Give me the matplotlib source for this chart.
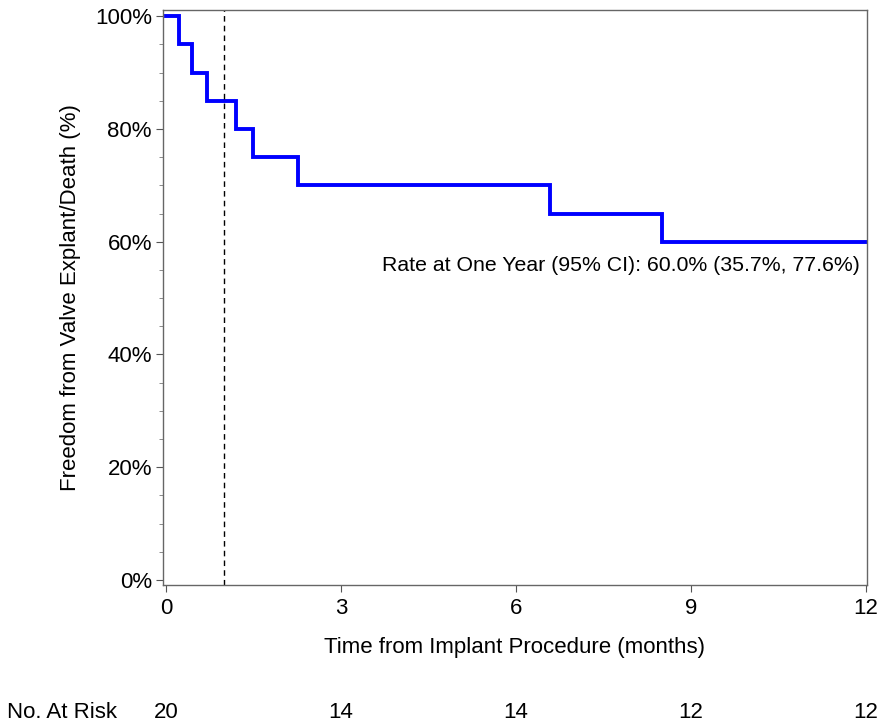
import numpy as np
import matplotlib
matplotlib.use('Agg')
import matplotlib.pyplot as plt

# Kaplan-Meier step estimates
event_times = [0.0, 0.22, 0.44, 0.70, 1.21, 1.50, 2.27, 6.58, 8.50, 12.0]
survival = [100, 95, 90, 85, 80, 75, 70, 65, 60, 60]
risk_times = [0, 3, 6, 9, 12]
at_risk = [20, 14, 14, 12, 12]
ref_line = 1.0

plt.rcParams['font.family'] = ['Liberation Sans', 'DejaVu Sans']

fig = plt.figure(figsize=(8.78, 7.26), dpi=100)
# spines: left 163px, right 867px, top 10px, bottom 585px
ax = fig.add_axes([163 / 878, 1 - 585 / 726, 704 / 878, 575 / 726])

ax.step(event_times, survival, where='post', color='#0000ff', lw=2.8,
        solid_joinstyle='miter', clip_on=False)
ax.axvline(ref_line, color='black', lw=1, ls=(0, (4, 3)))

ax.set_xlim(-0.05, 12.02)
ax.set_ylim(-0.9, 101.1)
ax.set_xticks(risk_times)
ax.set_yticks(range(0, 101, 20))
ax.set_yticks(range(0, 101, 5), minor=True)
ax.set_yticklabels([f"{v}%" for v in range(0, 101, 20)])
ax.tick_params(axis='both', labelsize=16, length=5, width=0.8, color='#555555', pad=3)
ax.tick_params(axis='x', pad=4)
ax.tick_params(axis='y', which='minor', length=3, width=0.6, color='#777777')
for s in ax.spines.values():
    s.set_color('#666666')
    s.set_linewidth(1.0)

ax.set_xlabel("Time from Implant Procedure (months)", fontsize=16, labelpad=13)
ax.set_ylabel("Freedom from Valve Explant/Death (%)", fontsize=16, labelpad=10)

ax.text(11.9, 55.8, "Rate at One Year (95% CI): 60.0% (35.7%, 77.6%)",
        ha='right', va='center', fontsize=15.3)

# number at risk row
trans = ax.get_xaxis_transform()
for t, n in zip(risk_times, at_risk):
    ax.text(t, -(713 - 585) / 575, str(n), transform=trans, ha='center', va='center',
            fontsize=16, clip_on=False)
fig.text(0.008, 1 - 713 / 726, "No. At Risk", ha='left', va='center', fontsize=16)

fig.savefig("out.png", dpi=100)
